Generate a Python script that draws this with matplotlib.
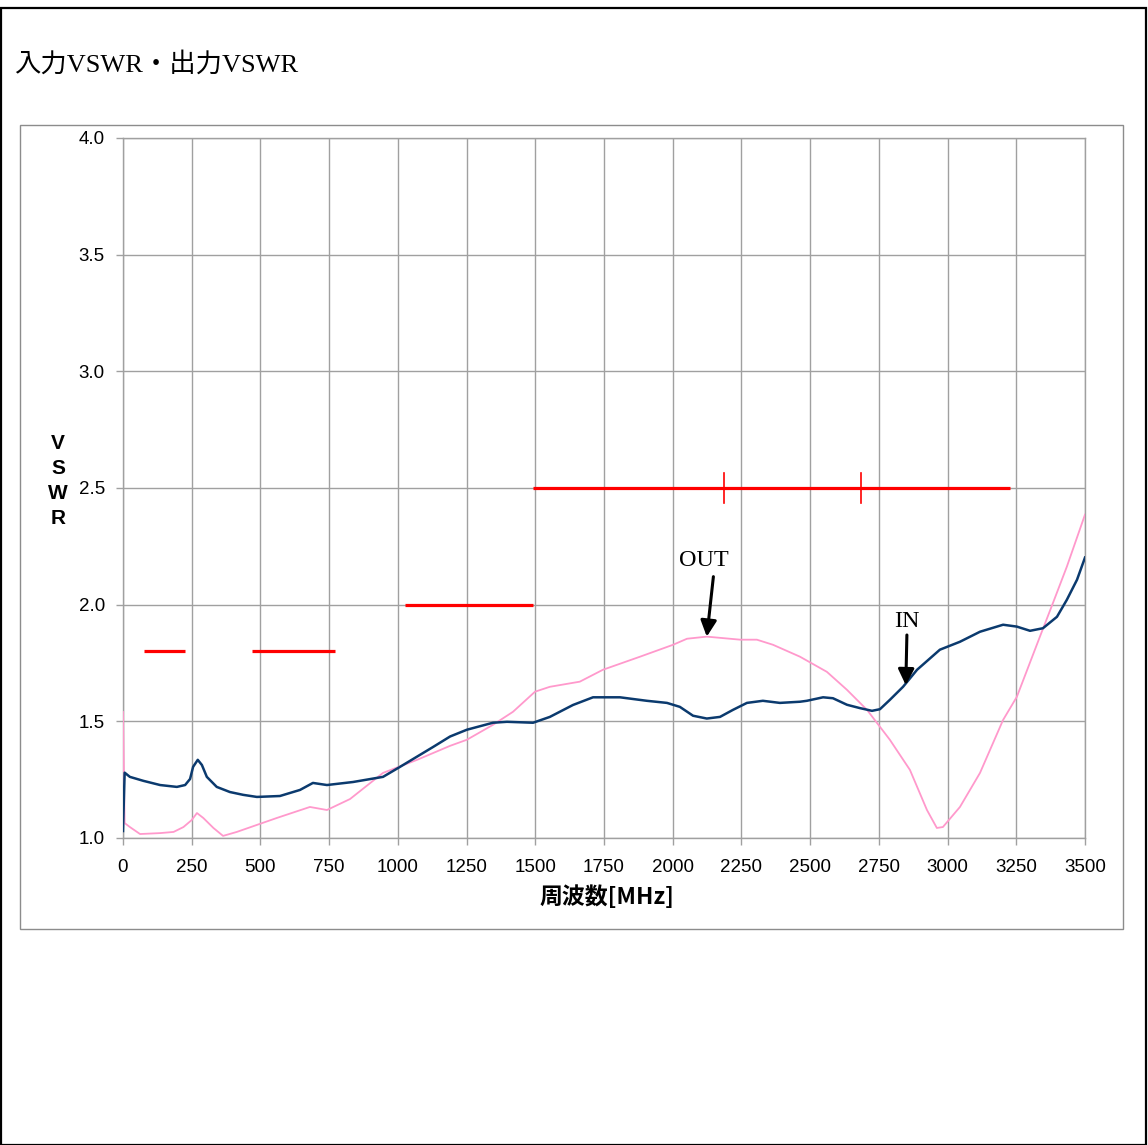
import matplotlib
matplotlib.use("Agg")
import matplotlib.pyplot as plt
from matplotlib.patches import Rectangle

# ---- data ----
in_freq = [0, 6, 25, 74, 135, 196, 226, 244, 255, 272, 287, 305, 341, 389, 437, 487,
           571, 644, 691, 742, 837, 946, 1008, 1128, 1190, 1251, 1346, 1397, 1492,
           1553, 1637, 1710, 1808, 1906, 1979, 2026, 2074, 2124, 2172, 2219, 2270,
           2328, 2390, 2463, 2488, 2547, 2583, 2634, 2680, 2725, 2754, 2790, 2838,
           2889, 2972, 3045, 3118, 3202, 3252, 3300, 3347, 3398, 3434, 3471, 3500]
in_vswr = [1.03, 1.28, 1.262, 1.245, 1.227, 1.219, 1.227, 1.253, 1.305, 1.335, 1.313,
           1.262, 1.219, 1.197, 1.185, 1.176, 1.18, 1.206, 1.236, 1.227, 1.24, 1.262,
           1.305, 1.39, 1.435, 1.464, 1.494, 1.498, 1.494, 1.519, 1.57, 1.603, 1.603,
           1.588, 1.579, 1.562, 1.524, 1.512, 1.519, 1.549, 1.579, 1.588, 1.579, 1.584,
           1.588, 1.603, 1.599, 1.571, 1.557, 1.545, 1.552, 1.592, 1.648, 1.721, 1.807,
           1.841, 1.884, 1.914, 1.906, 1.888, 1.899, 1.948, 2.021, 2.107, 2.202]

out_freq = [0, 6, 25, 62, 135, 184, 220, 250, 269, 292, 329, 364, 414, 487, 560, 680,
            742, 826, 946, 1070, 1190, 1251, 1346, 1419, 1499, 1553, 1662, 1746, 1881,
            2001, 2052, 2124, 2245, 2306, 2365, 2463, 2561, 2634, 2707, 2790, 2863,
            2925, 2961, 2983, 3045, 3118, 3202, 3252, 3336, 3384, 3434, 3500]
out_vswr = [1.54, 1.064, 1.047, 1.017, 1.021, 1.026, 1.047, 1.077, 1.107, 1.086, 1.043,
            1.009, 1.026, 1.056, 1.086, 1.133, 1.12, 1.167, 1.279, 1.335, 1.395, 1.421,
            1.485, 1.541, 1.627, 1.648, 1.67, 1.721, 1.777, 1.828, 1.854, 1.863, 1.85,
            1.85, 1.828, 1.777, 1.712, 1.635, 1.549, 1.421, 1.292, 1.12, 1.043, 1.047,
            1.133, 1.279, 1.506, 1.605, 1.863, 2.009, 2.163, 2.386]

# red spec lines: (start MHz, end MHz, VSWR level)
spec_start = [75, 470, 1025, 1490]
spec_end = [225, 770, 1490, 3228]
spec_level = [1.8, 1.8, 2.0, 2.5]
spec_marks = [2186, 2685]          # small vertical markers on the 2.5 line
spec_mark_level = 2.5

x_ticks = [0, 250, 500, 750, 1000, 1250, 1500, 1750, 2000, 2250, 2500, 2750, 3000, 3250, 3500]
y_ticks = [1.0, 1.5, 2.0, 2.5, 3.0, 3.5, 4.0]

title = "入力VSWR・出力VSWR"
xlabel = "周波数[MHz]"
ylabel = "VSWR"

# ---- figure ----
W, H = 1148, 1145
fig = plt.figure(figsize=(W / 100, H / 100), dpi=100)

# outer black frame
fig.patches.append(Rectangle((1 / W, 0), 1 - 3 / W, 1 - 8 / H, transform=fig.transFigure,
                             fill=False, edgecolor="black", linewidth=1.6))
# inner chart-area frame
fig.patches.append(Rectangle((20 / W, 1 - 929 / H), (1123 - 20) / W, (929 - 125) / H,
                             transform=fig.transFigure, fill=False,
                             edgecolor="#8c8c8c", linewidth=1.0))

fig.text(14 / W, 1 - 64 / H, title, ha="left", va="center", fontsize=19,
         family=["Liberation Serif", "Noto Sans CJK JP"])

ax = fig.add_axes([123 / W, 1 - 838 / H, (1085 - 123) / W, (838 - 138) / H])
ax.set_xlim(0, 3500)
ax.set_ylim(1.0, 4.0)
ax.set_xticks(x_ticks)
ax.set_yticks(y_ticks)
ax.set_xticklabels([str(v) for v in x_ticks])
ax.set_yticklabels([f"{v:.1f}" for v in y_ticks])
ax.grid(True, color="#a0a0a0", linewidth=1.0)
ax.set_axisbelow(True)
for s in ax.spines.values():
    s.set_color("#a0a0a0")
    s.set_linewidth(1.0)
ax.tick_params(axis="both", direction="out", color="#a0a0a0", length=5, width=1.0,
               labelsize=13.5, labelcolor="black")
ax.tick_params(axis="x", pad=10)
ax.tick_params(axis="y", pad=8)
for lab in ax.get_xticklabels() + ax.get_yticklabels():
    lab.set_family(["Liberation Sans", "DejaVu Sans"])

ax.plot(out_freq, out_vswr, color="#ff99cc", linewidth=1.3, zorder=3)
ax.plot(in_freq, in_vswr, color="#0b3a6e", linewidth=1.8, zorder=4)

for s0, s1, lv in zip(spec_start, spec_end, spec_level):
    ax.plot([s0, s1], [lv, lv], color="#ff0000", linewidth=2.3, solid_capstyle="butt", zorder=5)
for m in spec_marks:
    ax.plot([m, m], [spec_mark_level - 0.065, spec_mark_level + 0.065], color="#ff0000",
            linewidth=1.2, zorder=5)

arrow = dict(arrowstyle="-|>", color="black", lw=2.2, mutation_scale=24, shrinkA=0, shrinkB=0)
ax.annotate("", xy=(2124, 1.863), xytext=(2148, 2.12), arrowprops=arrow, zorder=6)
ax.text(2114, 2.19, "OUT", ha="center", va="center", fontsize=17.5,
        family="Liberation Serif", zorder=6)
ax.annotate("", xy=(2848, 1.655), xytext=(2852, 1.87), arrowprops=arrow, zorder=6)
ax.text(2852, 1.927, "IN", ha="center", va="center", fontsize=17.5,
        family="Liberation Serif", zorder=6)

fig.text(607 / W, 1 - 897 / H, xlabel, ha="center", va="center", fontsize=16.5,
         fontweight="bold", family=["Noto Sans CJK JP", "DejaVu Sans"])
fig.text(58 / W, 1 - 481 / H, "\n".join(ylabel), ha="center", va="center", fontsize=15,
         fontweight="bold", linespacing=1.38, multialignment="center",
         family=["Liberation Sans", "DejaVu Sans"])

fig.savefig("out.png", dpi=100)
